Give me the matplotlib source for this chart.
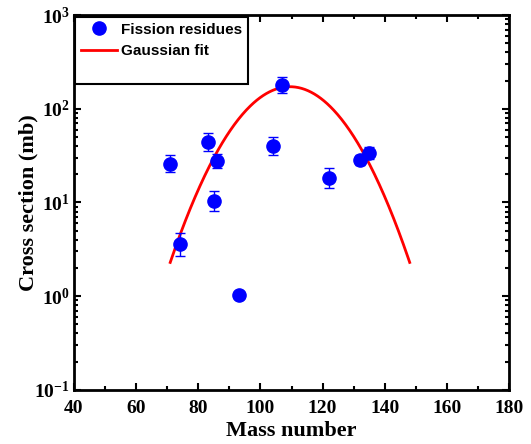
import numpy as np
import matplotlib
matplotlib.use("Agg")
import matplotlib.pyplot as plt
from matplotlib.lines import Line2D
from matplotlib.ticker import FuncFormatter, MultipleLocator, LogLocator

# data
mass = [71, 74, 83, 86, 85, 93, 104, 107, 122, 132, 135]
xsec = [25.8, 3.6, 44, 27.7, 10.4, 1.03, 40, 179, 18.2, 28.4, 33.7]
err_lo = [4.9, 0.9, 8.7, 4.3, 2.3, 0.10, 7.9, 32, 4.0, 3.0, 4.4]
err_hi = [6.0, 1.1, 10.8, 4.9, 2.9, 0.11, 9.8, 39, 5.1, 3.6, 5.1]

# gaussian fit parameters
fit_amp = 172
fit_centre = 109.5
fit_sigma = 13.1
fit_range = (71, 148)

plt.rcParams["mathtext.fontset"] = "custom"
plt.rcParams["mathtext.bf"] = "Liberation Serif:bold"
plt.rcParams["mathtext.rm"] = "Liberation Serif:bold"

fig = plt.figure(figsize=(5.31, 4.44), dpi=100)
ax = fig.add_axes([0.139, 0.122, 0.820, 0.844])

ax.errorbar(mass, xsec, yerr=[err_lo, err_hi], fmt="o", color="blue",
            markersize=9.5, elinewidth=1, capsize=3.5, capthick=1, zorder=3)

xf = np.linspace(fit_range[0], fit_range[1], 300)
yf = fit_amp * np.exp(-(xf - fit_centre) ** 2 / (2 * fit_sigma ** 2))
ax.plot(xf, yf, color="red", lw=2, zorder=2)

ax.set_yscale("log")
ax.set_xlim(40, 180)
ax.set_ylim(0.1, 1000)
ax.xaxis.set_major_locator(MultipleLocator(20))
ax.xaxis.set_minor_locator(MultipleLocator(10))
ax.yaxis.set_major_locator(LogLocator(base=10, numticks=10))
ax.yaxis.set_minor_locator(LogLocator(base=10, subs=np.arange(2, 10), numticks=10))
ax.yaxis.set_major_formatter(FuncFormatter(lambda v, p: r"$\mathbf{10^{%d}}$" % round(np.log10(v))))

ax.tick_params(which="both", direction="in", top=True, right=True, width=1.5)
ax.tick_params(which="major", length=5)
ax.tick_params(which="minor", length=3)
ax.tick_params(axis="x", labelsize=14, pad=7)
ax.tick_params(axis="y", labelsize=14, pad=3)
for lab in ax.get_xticklabels():
    lab.set_fontfamily("Liberation Serif")
    lab.set_fontweight("bold")
for s in ax.spines.values():
    s.set_linewidth(2)

ax.set_xlabel("Mass number", fontsize=16, fontweight="bold",
              fontfamily="Liberation Serif", labelpad=3)
ax.set_ylabel("Cross section (mb)", fontsize=16, fontweight="bold",
              fontfamily="Liberation Serif", labelpad=-3)

handles = [
    Line2D([], [], marker="o", ls="none", color="blue", markersize=9.5),
    Line2D([], [], color="red", lw=2),
    Line2D([], [], color="none"),
]
labels = ["Fission residues", "Gaussian fit", " "]
leg = ax.legend(handles, labels, loc="upper left", bbox_to_anchor=(0.0, 1.0),
                borderaxespad=0.1, fancybox=False, edgecolor="black",
                framealpha=1, handlelength=2.3, handletextpad=0.3,
                labelspacing=0.5, borderpad=0.4,
                prop={"family": "Liberation Sans", "weight": "bold", "size": 11})
leg.get_texts()[2].set_fontsize(4)
leg.get_frame().set_linewidth(1.5)

fig.savefig("out.png", dpi=100)
